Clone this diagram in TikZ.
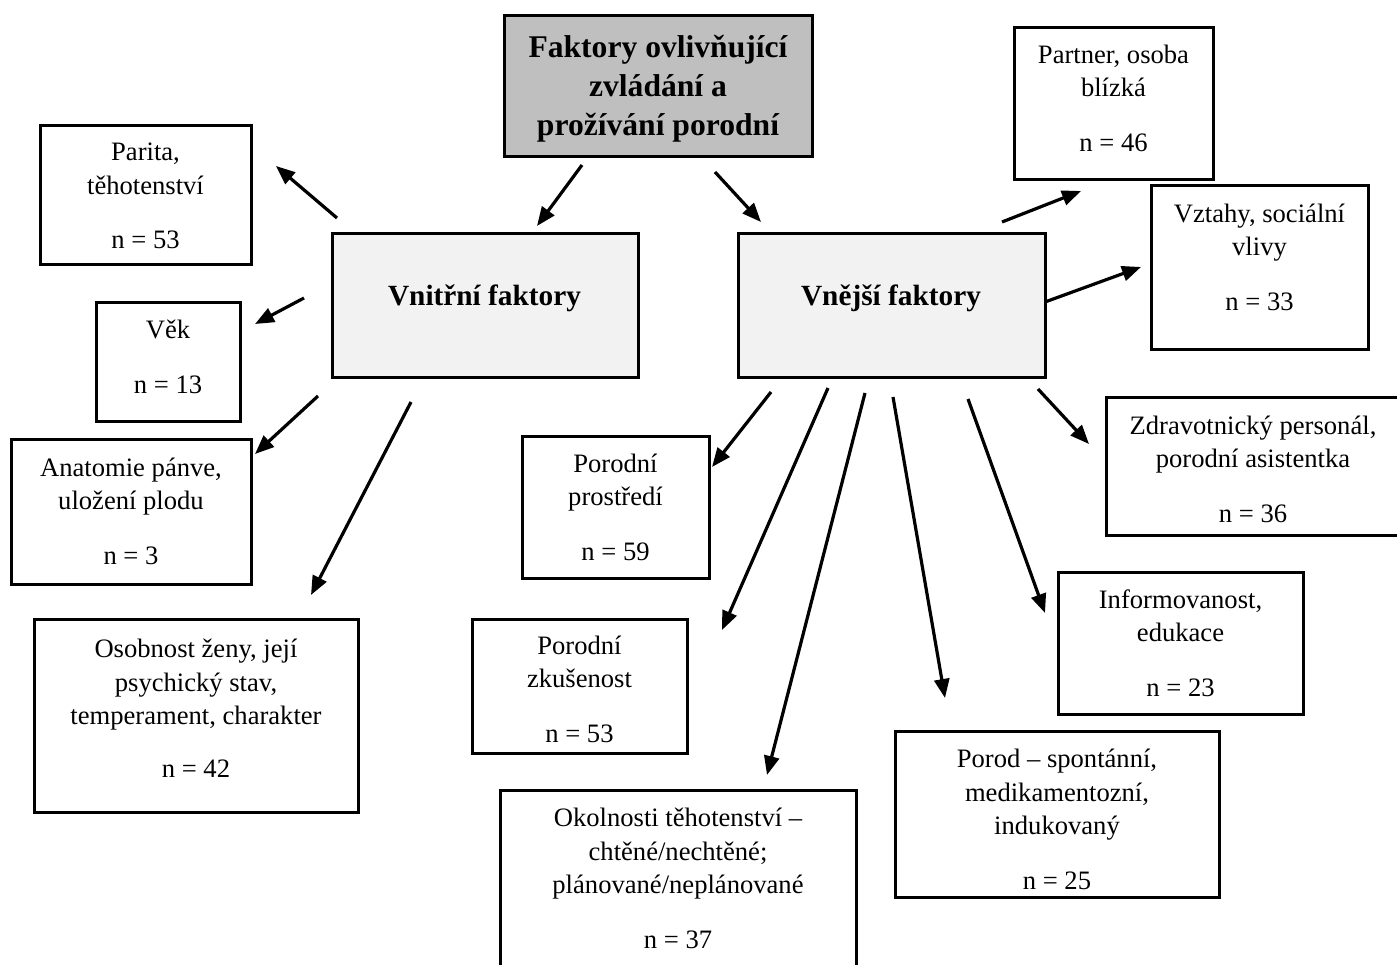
\documentclass[tikz,border=0pt]{standalone}
\usepackage{fontspec}
\setmainfont{Liberation Serif}
\usetikzlibrary{arrows.meta}
\definecolor{titlegray}{HTML}{BFBFBF}
\definecolor{lightgray2}{HTML}{F2F2F2}
\tikzset{
  box/.style={draw, line width=3pt, inner sep=0pt},
  txt/.style={align=center, inner sep=0pt, anchor=base, font=\fontsize{26.6}{33.5}\selectfont},
  bigtxt/.style={align=center, inner sep=0pt, anchor=base, font=\bfseries\fontsize{31.6}{39}\selectfont},
  midtxt/.style={align=center, inner sep=0pt, anchor=base, font=\bfseries\fontsize{29.3}{35}\selectfont},
  arr/.style={line width=3.2pt, -{Triangle[length=19pt,width=15pt]}},
}
\begin{document}
\begin{tikzpicture}[x=1pt,y=-1pt]
\useasboundingbox (0,0) rectangle (1397,965);
% boxes
\node[box, fill=titlegray, minimum width=308pt, minimum height=141pt] (title) at (658,86.5) {};
\node[box, fill=lightgray2, minimum width=306pt, minimum height=143pt] (vnitr) at (485,305.5) {};
\node[box, fill=lightgray2, minimum width=307pt, minimum height=143pt] (vnej) at (891.5,305.5) {};
\node[box, minimum width=211pt, minimum height=139pt] (parita) at (145.5,195.5) {};
\node[box, minimum width=144pt, minimum height=118pt] (vek) at (168,362) {};
\node[box, minimum width=240pt, minimum height=145pt] (anat) at (131,511.5) {};
\node[box, minimum width=324pt, minimum height=193pt] (osob) at (196,715.5) {};
\node[box, minimum width=199pt, minimum height=152pt] (partner) at (1113.5,104) {};
\node[box, minimum width=217pt, minimum height=164pt] (vztahy) at (1259.5,268) {};
\node[box, minimum width=296pt, minimum height=138pt] (zdrav) at (1254,466) {};
\node[box, minimum width=187pt, minimum height=142pt] (prostr) at (615.5,507) {};
\node[box, minimum width=215pt, minimum height=134pt] (zkus) at (579.5,686) {};
\node[box, minimum width=356pt, minimum height=185pt] (okol) at (678,882.5) {};
\node[box, minimum width=245pt, minimum height=142pt] (inform) at (1180.5,643) {};
\node[box, minimum width=324pt, minimum height=166pt] (porod) at (1057,814) {};
% texts (anchored at the baseline of the last line)
\node[bigtxt] (titleT) at (658,136) {Faktory ovlivňující\\zvládání a\\prožívání porodní};
\node[midtxt] (vnitrT) at (484.5,306) {Vnitřní faktory};
\node[midtxt] (vnejT) at (891,306) {Vnější faktory};
\node[txt] (paritaT) at (145.5,249) {Parita,\\těhotenství\\[21pt]n = 53};
\node[txt] (vekT) at (168,393) {Věk\\[21pt]n = 13};
\node[txt] (anatT) at (131,564) {Anatomie pánve,\\uložení plodu\\[21pt]n = 3};
\node[txt] (osobT) at (196,777) {Osobnost ženy, její\\psychický stav,\\temperament, charakter\\[19pt]n = 42};
\node[txt] (partnerT) at (1113.5,151.5) {Partner, osoba\\blízká\\[21pt]n = 46};
\node[txt] (vztahyT) at (1259.5,310.5) {Vztahy, sociální\\vlivy\\[21pt]n = 33};
\node[txt] (zdravT) at (1253,522) {Zdravotnický personál,\\porodní asistentka\\[21pt]n = 36};
\node[txt] (prostrT) at (615.5,560) {Porodní\\prostředí\\[21pt]n = 59};
\node[txt] (zkusT) at (579.5,742) {Porodní\\zkušenost\\[21pt]n = 53};
\node[txt] (okolT) at (678,948) {Okolnosti těhotenství –\\chtěné/nechtěné;\\plánované/neplánované\\[21pt]n = 37};
\node[txt] (informT) at (1180.5,696) {Informovanost,\\edukace\\[21pt]n = 23};
\node[txt] (porodT) at (1057,889) {Porod – spontánní,\\medikamentozní,\\indukovaný\\[21pt]n = 25};
% connector end points
\coordinate (a1s) at (582,165);  \coordinate (a1e) at (537,226);
\coordinate (a2s) at (715,172);  \coordinate (a2e) at (761,222);
\coordinate (b1s) at (337,218);  \coordinate (b1e) at (276,166);
\coordinate (b2s) at (304,298);  \coordinate (b2e) at (255,324);
\coordinate (b3s) at (318,396);  \coordinate (b3e) at (255,454);
\coordinate (b4s) at (411,402);  \coordinate (b4e) at (311,595);
\coordinate (c1s) at (1002,222); \coordinate (c1e) at (1081,191);
\coordinate (c2s) at (1045,302); \coordinate (c2e) at (1141,267);
\coordinate (c3s) at (1038,389); \coordinate (c3e) at (1089,444);
\coordinate (c4s) at (968,399);  \coordinate (c4e) at (1045,613);
\coordinate (c5s) at (893,397);  \coordinate (c5e) at (945,698);
\coordinate (c6s) at (865,393);  \coordinate (c6e) at (767,775);
\coordinate (c7s) at (828,388);  \coordinate (c7e) at (722,630);
\coordinate (c8s) at (771,392);  \coordinate (c8e) at (712,467);
% connectors
\draw[arr] (a1s) -- (a1e);
\draw[arr] (a2s) -- (a2e);
\draw[arr] (b1s) -- (b1e);
\draw[arr] (b2s) -- (b2e);
\draw[arr] (b3s) -- (b3e);
\draw[arr] (b4s) -- (b4e);
\draw[arr] (c1s) -- (c1e);
\draw[arr] (c2s) -- (c2e);
\draw[arr] (c3s) -- (c3e);
\draw[arr] (c4s) -- (c4e);
\draw[arr] (c5s) -- (c5e);
\draw[arr] (c6s) -- (c6e);
\draw[arr] (c7s) -- (c7e);
\draw[arr] (c8s) -- (c8e);
\end{tikzpicture}
\end{document}
